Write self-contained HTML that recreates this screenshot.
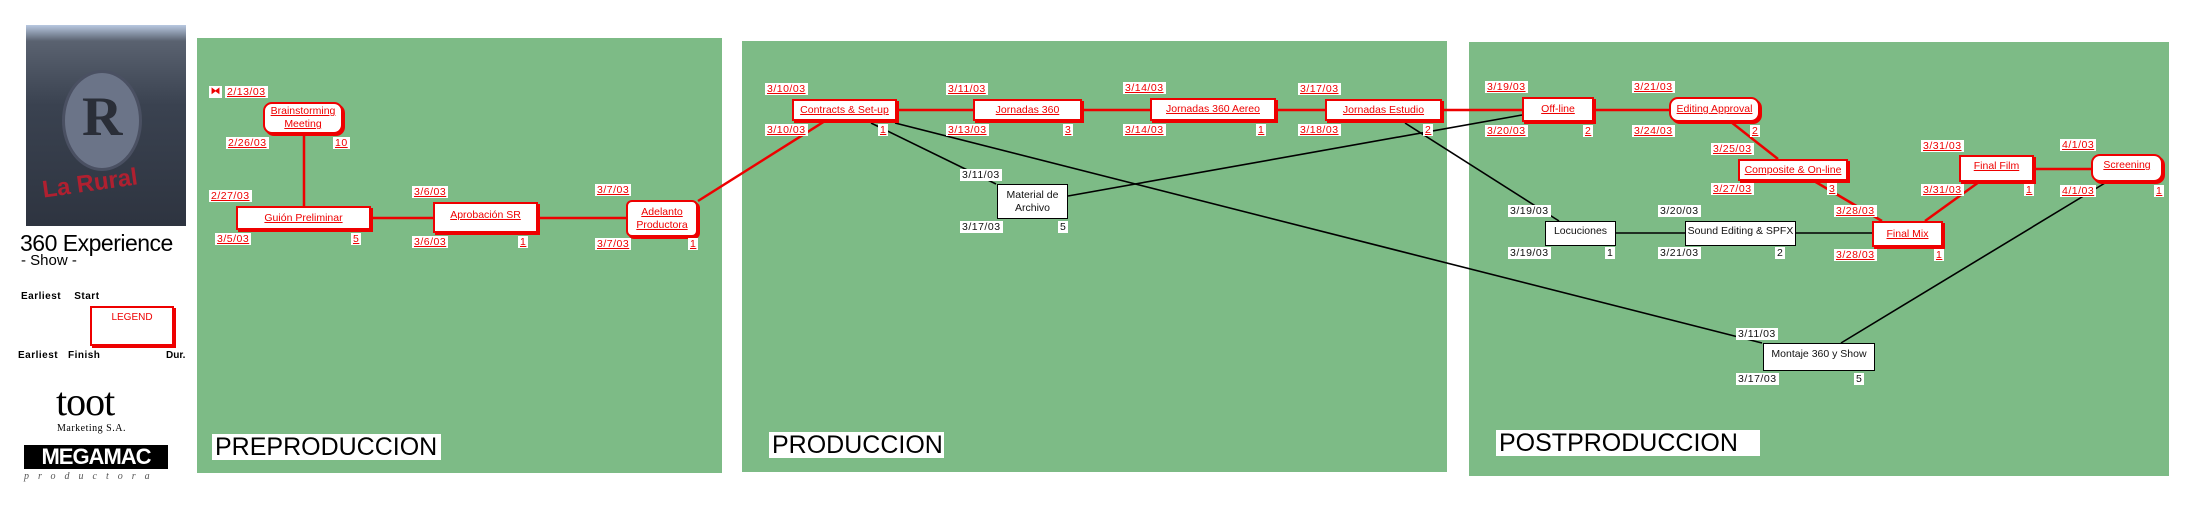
<!DOCTYPE html>
<html><head><meta charset="utf-8"><style>
body{margin:0;width:2201px;height:519px;background:#fff;position:relative;overflow:hidden;font-family:"Liberation Sans",sans-serif}
.p{position:absolute;background:#7dbb86}
.b{position:absolute;background:#fff;border:2px solid #e00;box-shadow:2px 2px 0 #e00;box-sizing:border-box;color:#e00;text-decoration:underline;font-size:10.5px;text-align:center;display:flex;align-items:center;justify-content:center;line-height:13px}
.r{border-radius:9px}
.k{border:1.5px solid #000;box-shadow:none;color:#111;text-decoration:none}
.d{position:absolute;background:#fff;color:#e00;text-decoration:underline;font-size:10.5px;line-height:12px;padding:0 2px;letter-spacing:.5px}
.dk{color:#111;text-decoration:none}
.t{position:absolute;background:#fff;font-size:25px;line-height:26px;padding:0 3px;color:#000}
svg{position:absolute;left:0;top:0}
</style></head><body>
<div style="position:absolute;left:26px;top:25px;width:160px;height:201px;background:linear-gradient(180deg,#b8c8e0 0,#5a6270 8%,#3a4250 40%,#2e3440 100%)"></div>
<div style="position:absolute;left:62px;top:70px;width:74px;height:95px;border-radius:50%;background:#6b7488;border:3px solid #4a5062"></div>
<div style="position:absolute;left:82px;top:85px;font:bold 56px 'Liberation Serif',serif;color:#2a2e38">R</div>
<div style="position:absolute;left:42px;top:170px;font:bold 24px 'Liberation Sans',sans-serif;color:#b02030;transform:rotate(-8deg)">La Rural</div>
<div style="position:absolute;left:20px;top:230px;font-size:23px;color:#000;letter-spacing:-0.5px">360 Experience</div>
<div style="position:absolute;left:21px;top:252px;font-size:15px;color:#000">- Show -</div>
<div style="position:absolute;left:21px;top:291px;font-size:10px;font-weight:bold;letter-spacing:.5px">Earliest&nbsp;&nbsp;&nbsp; Start</div>
<div class="b" style="left:90px;top:306px;width:84px;height:40px;align-items:flex-start;text-decoration:none;font-size:10px;padding-top:3px">LEGEND</div>
<div style="position:absolute;left:18px;top:350px;font-size:10px;font-weight:bold;letter-spacing:.5px">Earliest&nbsp;&nbsp; Finish</div>
<div style="position:absolute;left:166px;top:350px;font-size:10px;font-weight:bold">Dur.</div>
<div style="position:absolute;left:56px;top:378px;font:40px 'Liberation Serif',serif;letter-spacing:-1px">toot</div>
<div style="position:absolute;left:57px;top:423px;font:10px 'Liberation Serif',serif;letter-spacing:.5px">Marketing S.A.</div>
<div style="position:absolute;left:24px;top:445px;width:144px;height:24px;background:#000;color:#fff;font:bold 22px 'Liberation Sans',sans-serif;text-align:center;line-height:24px;letter-spacing:-1px">MEGAMAC</div>
<div style="position:absolute;left:24px;top:471px;font:italic 10px 'Liberation Serif',serif;letter-spacing:9px;color:#555">productora</div>

<div class="p" style="left:197px;top:38px;width:525px;height:435px"></div>
<div class="p" style="left:742px;top:41px;width:705px;height:431px"></div>
<div class="p" style="left:1469px;top:42px;width:700px;height:434px"></div>

<svg width="2201" height="519">
<g stroke="#e00" stroke-width="2.5" fill="none">
<line x1="304" y1="134" x2="304" y2="206"/>
<line x1="371" y1="218" x2="433" y2="218"/>
<line x1="538" y1="218" x2="626" y2="218"/>
<line x1="698" y1="201" x2="825" y2="121"/>
<line x1="897" y1="110" x2="973" y2="110"/>
<line x1="1082" y1="110" x2="1150" y2="110"/>
<line x1="1276" y1="110" x2="1325" y2="110"/>
<line x1="1442" y1="110" x2="1522" y2="110"/>
<line x1="1594" y1="110" x2="1669" y2="110"/>
<line x1="1731" y1="122" x2="1778" y2="159"/>
<line x1="1814" y1="181" x2="1882" y2="221"/>
<line x1="1925" y1="221" x2="1979" y2="182"/>
<line x1="2034" y1="169" x2="2091" y2="169"/>
</g>
<g stroke="#000" stroke-width="1.6" fill="none">
<line x1="871" y1="123" x2="996" y2="184"/>
<line x1="895" y1="123" x2="1762" y2="343"/>
<line x1="1068" y1="196" x2="1522" y2="115"/>
<line x1="1405" y1="123" x2="1559" y2="221"/>
<line x1="1616" y1="233" x2="1685" y2="233"/>
<line x1="1796" y1="233" x2="1872" y2="233"/>
<line x1="1841" y1="343" x2="2105" y2="183"/>
</g>
</svg>

<div style="position:absolute;left:209px;top:86px;width:13px;height:12px;background:#fff;color:#e00;font-size:10px;line-height:12px;text-align:center">⧓</div>
<div class="d" style="left:225px;top:86px">2/13/03</div>
<div class="b r" style="left:263px;top:102px;width:80px;height:32px">Brainstorming<br>Meeting</div>
<div class="d" style="left:226px;top:137px">2/26/03</div><div class="d" style="left:333px;top:137px">10</div>
<div class="b" style="left:236px;top:206px;width:135px;height:24px">Guión Preliminar</div>
<div class="d" style="left:209px;top:190px">2/27/03</div>
<div class="d" style="left:215px;top:233px">3/5/03</div><div class="d" style="left:351px;top:233px">5</div>
<div class="b" style="left:433px;top:202px;width:105px;height:31px;align-items:flex-start;padding-top:5px">Aprobación SR</div>
<div class="d" style="left:412px;top:186px">3/6/03</div>
<div class="d" style="left:412px;top:236px">3/6/03</div><div class="d" style="left:518px;top:236px">1</div>
<div class="b r" style="left:626px;top:200px;width:72px;height:37px;border-radius:6px">Adelanto<br>Productora</div>
<div class="d" style="left:595px;top:184px">3/7/03</div>
<div class="d" style="left:595px;top:238px">3/7/03</div><div class="d" style="left:688px;top:238px">1</div>

<div class="b" style="left:792px;top:99px;width:105px;height:22px">Contracts &amp; Set-up</div>
<div class="d" style="left:765px;top:83px">3/10/03</div>
<div class="d" style="left:765px;top:124px">3/10/03</div><div class="d" style="left:878px;top:124px">1</div>
<div class="b" style="left:973px;top:99px;width:109px;height:22px">Jornadas 360</div>
<div class="d" style="left:946px;top:83px">3/11/03</div>
<div class="d" style="left:946px;top:124px">3/13/03</div><div class="d" style="left:1063px;top:124px">3</div>
<div class="b" style="left:1150px;top:98px;width:126px;height:23px">Jornadas 360 Aereo</div>
<div class="d" style="left:1123px;top:82px">3/14/03</div>
<div class="d" style="left:1123px;top:124px">3/14/03</div><div class="d" style="left:1256px;top:124px">1</div>
<div class="b" style="left:1325px;top:99px;width:117px;height:22px">Jornadas Estudio</div>
<div class="d" style="left:1298px;top:83px">3/17/03</div>
<div class="d" style="left:1298px;top:124px">3/18/03</div><div class="d" style="left:1423px;top:124px">2</div>
<div class="b k" style="left:997px;top:184px;width:71px;height:35px">Material de<br>Archivo</div>
<div class="d dk" style="left:960px;top:169px">3/11/03</div>
<div class="d dk" style="left:960px;top:221px">3/17/03</div><div class="d dk" style="left:1058px;top:221px">5</div>

<div class="b" style="left:1522px;top:97px;width:72px;height:25px">Off-line</div>
<div class="d" style="left:1485px;top:81px">3/19/03</div>
<div class="d" style="left:1485px;top:125px">3/20/03</div><div class="d" style="left:1583px;top:125px">2</div>
<div class="b r" style="left:1669px;top:97px;width:91px;height:25px">Editing Approval</div>
<div class="d" style="left:1632px;top:81px">3/21/03</div>
<div class="d" style="left:1632px;top:125px">3/24/03</div><div class="d" style="left:1750px;top:125px">2</div>
<div class="b" style="left:1738px;top:159px;width:110px;height:22px">Composite &amp; On-line</div>
<div class="d" style="left:1711px;top:143px">3/25/03</div>
<div class="d" style="left:1711px;top:183px">3/27/03</div><div class="d" style="left:1827px;top:183px">3</div>
<div class="b" style="left:1872px;top:221px;width:71px;height:26px">Final Mix</div>
<div class="d" style="left:1834px;top:205px">3/28/03</div>
<div class="d" style="left:1834px;top:249px">3/28/03</div><div class="d" style="left:1934px;top:249px">1</div>
<div class="b" style="left:1959px;top:155px;width:75px;height:27px;align-items:flex-start;padding-top:3px">Final Film</div>
<div class="d" style="left:1921px;top:140px">3/31/03</div>
<div class="d" style="left:1921px;top:184px">3/31/03</div><div class="d" style="left:2024px;top:184px">1</div>
<div class="b r" style="left:2091px;top:154px;width:72px;height:28px;align-items:flex-start;padding-top:3px">Screening</div>
<div class="d" style="left:2060px;top:139px">4/1/03</div>
<div class="d" style="left:2060px;top:185px">4/1/03</div><div class="d" style="left:2154px;top:185px">1</div>
<div class="b k" style="left:1545px;top:221px;width:71px;height:25px;align-items:flex-start;padding-top:3px">Locuciones</div>
<div class="d dk" style="left:1508px;top:205px">3/19/03</div>
<div class="d dk" style="left:1508px;top:247px">3/19/03</div><div class="d dk" style="left:1605px;top:247px">1</div>
<div class="b k" style="left:1685px;top:221px;width:111px;height:25px;align-items:flex-start;padding-top:3px">Sound Editing &amp; SPFX</div>
<div class="d dk" style="left:1658px;top:205px">3/20/03</div>
<div class="d dk" style="left:1658px;top:247px">3/21/03</div><div class="d dk" style="left:1775px;top:247px">2</div>
<div class="b k" style="left:1763px;top:343px;width:112px;height:28px;align-items:flex-start;padding-top:4px">Montaje 360 y Show</div>
<div class="d dk" style="left:1736px;top:328px">3/11/03</div>
<div class="d dk" style="left:1736px;top:373px">3/17/03</div><div class="d dk" style="left:1854px;top:373px">5</div>

<div class="t" style="left:212px;top:434px;width:223px">PREPRODUCCION</div>
<div class="t" style="left:769px;top:432px;width:169px">PRODUCCION</div>
<div class="t" style="left:1496px;top:430px;width:258px">POSTPRODUCCION</div>
</body></html>
